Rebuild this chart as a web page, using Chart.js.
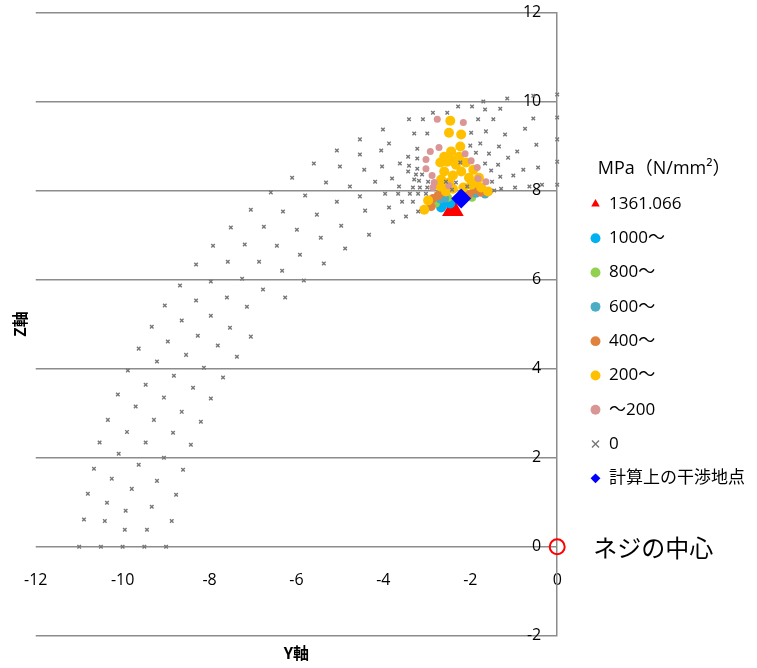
<!DOCTYPE html>
<html>
<head>
<meta charset="utf-8">
<script src="https://cdn.jsdelivr.net/npm/chart.js@4.4.1/dist/chart.umd.min.js"></script>
<style>
html, body { margin: 0; padding: 0; background: #fff; }
#wrap { width: 757px; height: 668px; overflow: hidden; }
</style>
</head>
<body>
<div id="wrap"><canvas id="graph"></canvas></div>
<script>
// series names (legend order)
const seriesNames = ["1361.066", "1000～", "800～", "600～", "400～", "200～", "～200", "0", "計算上の干渉地点"];
const legendTitle = "MPa（N/mm²）";
const centerText = "ネジの中心";

// Y軸 / Z軸 values per series
const maxY = [-2.40];
const maxZ = [7.57];

const s1000Y = [-2.63, -2.53, -2.67, -2.46];
const s1000Z = [7.69, 7.75, 7.62, 7.71];

const s800Y = [-2.79, -2.51, -2.07, -1.96];
const s800Z = [7.71, 7.84, 7.91, 7.84];

const s600Y = [-2.69, -2.58, -1.87, -1.66];
const s600Z = [7.80, 7.82, 7.93, 7.91];

const s400Y = [-2.74, -2.86, -2.90, -2.51, -1.91, -1.75, -2.03, -2.65];
const s400Z = [7.89, 7.82, 7.64, 8.04, 8.02, 7.96, 7.91, 7.96];

const s200Y = [-2.46, -2.49, -2.21, -2.23, -2.44, -2.60, -2.26, -2.46, -2.69, -2.53,
    -2.60, -2.67, -2.69, -2.33, -2.10, -1.93, -2.21, -2.40, -2.03, -1.80,
    -2.49, -1.98, -2.16, -2.40, -1.75, -1.59, -1.87, -2.56, -2.97, -3.06];
const s200Z = [9.57, 9.30, 9.26, 8.99, 8.88, 8.76, 8.76, 8.70, 8.63, 8.65,
    8.43, 8.25, 8.09, 8.58, 8.63, 8.47, 8.43, 8.34, 8.29, 8.29,
    8.18, 8.13, 8.07, 8.04, 8.07, 7.98, 8.18, 7.98, 7.78, 7.57];

const sLowY = [-2.76, -2.16, -2.72, -2.92, -3.02, -3.02, -2.88, -2.83, -2.86, -2.12, -1.98, -1.84, -1.82, -1.64, -2.49];
const sLowZ = [9.60, 9.53, 8.97, 8.88, 8.70, 8.49, 8.34, 8.18, 8.07, 8.83, 8.67, 8.52, 8.27, 8.20, 8.11];

const zeroY = [
    -10.34, -9.28, -9.90, -8.84, -10.53, -9.47, -8.43, -10.09, -9.05, -10.66,
    -9.63, -8.61, -10.25, -9.21, -9.79, -10.80, -8.77, -10.36, -9.33, -9.93,
    -10.89, -10.41, -8.87, -9.95, -9.44, -11, -10.5, -10, -9.5, -9,
    -8.68, -7.97, -7.25, -9.03, -8.31, -7.60, -7.14, -9.33, -8.64, -7.97,
    -7.53, -7.05, -8.96, -8.27, -9.63, -7.81, -8.54, -7.37, -9.21, -9.88,
    -8.13, -8.82, -7.69, -9.47, -8.38, -10.11, -9.05, -7.97, -9.70, -8.64,
    -8.20,
    -4.54, -5.07, -4.54, -5.60, -5.00, -6.10, -5.32, -4.77, -6.59, -5.80,
    -4.54, -5.07, -7.05, -6.31, -5.53, -7.51, -6.75, -5.99, -4.97, -5.44,
    -7.92, -7.19, -6.45, -4.88, -5.92, -8.31, -7.58, -6.86, -5.37, -6.33,
    -5.83, -6.77, -6.26,
    -1.70, -1.15, -2.28, -1.96, -1.66, -1.31, -2.86, -2.53, -3.41, -3.09,
    -1.82, -1.47, -0.55, -4.01, -3.29, -2.99, -1.98, -1.64, -1.20, -0.74,
    -3.87, -3.22, -2.00, -1.77, -0.48, -4.05, -3.43, -1.87, -1.57, -1.34,
    -0.92, -3.22, -3.62, -3.41, -3.22, -2.23, -1.66, -1.36, -1.13, -0.44,
    -4.44, -4.03, -3.43, -3.25, -3.11, -1.52, -0.78, -4.19, -3.80, -3.29,
    -3.18, -2.97, -1.50, -1.31, -1.01, -3.64, -3.32, -3.16, -2.99, -2.33,
    -2.07, -1.45, -1.29, -0.97, -0.64, -0.35, -3.96, -3.66, -3.39, -3.20,
    -3.02, -4.42, -3.87, -3.57, -3.32, -3.20, -3.78, -3.48, -4.33,
    -0.55, 0, 0, 0, 0, 0, -2.56, -2.42
];
const zeroZ = [
    2.85, 2.85, 2.58, 2.56, 2.34, 2.34, 2.29, 2.09, 2.00, 1.75,
    1.84, 1.73, 1.53, 1.48, 1.30, 1.19, 1.17, 0.99, 0.90, 0.81,
    0.61, 0.58, 0.58, 0.38, 0.38, 0, 0, 0, 0, 0,
    5.87, 5.96, 6.02, 5.42, 5.53, 5.60, 5.39, 4.94, 5.08, 5.19,
    4.92, 4.72, 4.61, 4.74, 4.45, 4.52, 4.31, 4.27, 4.16, 3.96,
    4.02, 3.84, 3.80, 3.64, 3.57, 3.42, 3.35, 3.33, 3.15, 3.03,
    2.81,
    9.15, 8.90, 8.81, 8.61, 8.54, 8.29, 8.18, 8.09, 7.96, 7.89,
    7.87, 7.75, 7.57, 7.53, 7.46, 7.17, 7.19, 7.12, 7.21, 6.94,
    6.76, 6.79, 6.76, 6.70, 6.56, 6.34, 6.40, 6.40, 6.36, 6.20,
    5.98, 5.78, 5.60,
    10.00, 10.07, 9.89, 9.89, 9.82, 9.84, 9.75, 9.75, 9.60, 9.60,
    9.60, 9.60, 9.62, 9.37, 9.28, 9.28, 9.30, 9.33, 9.26, 9.39,
    9.06, 8.94, 9.01, 9.06, 9.03, 8.90, 8.76, 8.85, 8.83, 8.99,
    8.88, 8.72, 8.61, 8.56, 8.49, 8.63, 8.61, 8.58, 8.74, 8.52,
    8.47, 8.54, 8.43, 8.36, 8.36, 8.45, 8.47, 8.20, 8.27, 8.25,
    8.22, 8.20, 8.20, 8.31, 8.34, 8.09, 8.07, 8.07, 8.07, 8.18,
    8.09, 8.00, 8.04, 8.07, 8.09, 8.13, 7.93, 7.93, 7.93, 7.93,
    7.93, 7.55, 7.62, 7.75, 7.75, 7.53, 7.30, 7.42, 7.01,
    10.13, 10.16, 9.64, 9.15, 8.65, 8.13, 8.20, 8.02
];

const hitY = [-2.21];
const hitZ = [7.82];

const centerY = [0];
const centerZ = [0];

const numFont = '"Open Sans", "Noto Sans CJK JP", sans-serif';
const jpFont = '"Noto Sans CJK JP", sans-serif';

function points(ys, zs){
    return ys.map((v, i) => ({x: v, y: zs[i]}));
}

function series(idx, ys, zs, style, color, radius, extra){
    return Object.assign({
        label: seriesNames[idx],
        data: points(ys, zs),
        pointStyle: style,
        backgroundColor: color,
        borderColor: color,
        borderWidth: 0,
        pointRadius: radius,
        order: 20 - idx,
        clip: false
    }, extra || {});
}

const centerLabel = {
    id: 'centerLabel',
    afterDatasetsDraw(chart){
        const ctx = chart.ctx;
        const px = chart.scales.x.getPixelForValue(centerY[0]);
        const py = chart.scales.y.getPixelForValue(centerZ[0]);
        ctx.save();
        ctx.font = '24px ' + jpFont;
        ctx.fillStyle = '#000';
        ctx.textBaseline = 'middle';
        ctx.fillText(centerText, px + 36, py + 1);
        ctx.restore();
    }
};

Chart.defaults.font.family = numFont;
Chart.defaults.color = '#000';

new Chart("graph", {
    type: 'scatter',
    data: {
        datasets: [
            series(0, maxY, maxZ, 'triangle', '#ff0000', 12.5),
            series(1, s1000Y, s1000Z, 'circle', '#00b0f0', 5),
            series(2, s800Y, s800Z, 'circle', '#92d050', 4),
            series(3, s600Y, s600Z, 'circle', '#4bacc6', 4),
            series(4, s400Y, s400Z, 'circle', '#e0823d', 4.5),
            series(5, s200Y, s200Z, 'circle', '#ffc000', 5),
            series(6, sLowY, sLowZ, 'circle', '#d99694', 3.5),
            series(7, zeroY, zeroZ, 'crossRot', '#777777', 2.5, {borderWidth: 1.4}),
            series(8, hitY, hitZ, 'rectRot', '#0000ff', 10),
            {
                label: centerText,
                data: points(centerY, centerZ),
                pointStyle: 'circle',
                backgroundColor: 'rgba(0,0,0,0)',
                borderColor: '#ff0000',
                borderWidth: 2,
                pointRadius: 7.5,
                order: 0,
                clip: false
            }
        ]
    },
    options: {
        responsive: true,
        maintainAspectRatio: false,
        animation: false,
        layout: {padding: {top: 2, right: 2, bottom: 0, left: 0}},
        scales: {
            x: {
                type: 'linear',
                min: -12, max: 0,
                position: {y: 0},
                ticks: {stepSize: 2, font: {size: 16}, padding: 24},
                grid: {display: false, drawTicks: false},
                border: {display: false}
            },
            y: {
                type: 'linear',
                min: -2, max: 12,
                position: 'right',
                ticks: {stepSize: 2, font: {size: 16}, padding: -16, mirror: true},
                grid: {color: '#8c8c8c', lineWidth: 1.5, drawTicks: true, tickLength: 48, tickColor: 'rgba(0,0,0,0)'},
                border: {color: '#8c8c8c', width: 1.5}
            },
            xTitle: {
                axis: 'x',
                type: 'linear',
                position: 'bottom',
                ticks: {display: false},
                grid: {display: false, drawTicks: false},
                border: {display: false},
                title: {display: true, text: 'Y軸', font: {size: 16, weight: 'bold', family: jpFont}, padding: {top: 8, bottom: 5}}
            },
            zTitle: {
                axis: 'y',
                type: 'linear',
                position: 'left',
                ticks: {display: false},
                grid: {display: false, drawTicks: false},
                border: {display: false},
                title: {display: true, text: 'Z軸', font: {size: 16, weight: 'bold', family: jpFont}, padding: {top: 10, bottom: 6}}
            }
        },
        plugins: {
            tooltip: {enabled: false},
            legend: {
                position: 'right',
                align: 'center',
                fullSize: false,
                maxWidth: 200,
                title: {display: true, text: legendTitle, font: {size: 18, lineHeight: 1}, padding: {top: 16, bottom: 0}},
                labels: {
                    usePointStyle: true,
                    boxWidth: 10,
                    boxHeight: 7,
                    padding: 17.3,
                    font: {size: 17},
                    filter: item => item.text !== centerText,
                    sort: (a, b) => a.datasetIndex - b.datasetIndex
                }
            }
        }
    },
    plugins: [centerLabel]
});
</script>
</body>
</html>
